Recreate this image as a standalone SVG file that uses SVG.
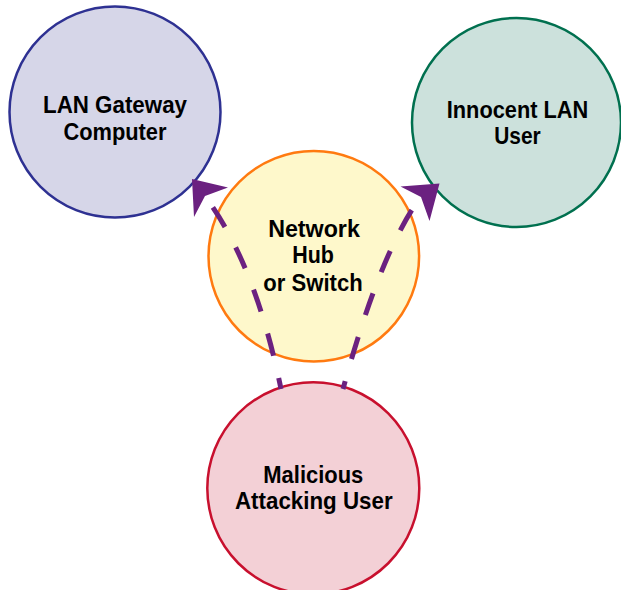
<svg xmlns="http://www.w3.org/2000/svg" width="621" height="590" viewBox="0 0 621 590">
  <style>
    .node { stroke-width: 2.5; }
    .label { font-family: "Liberation Sans", Arial, sans-serif; font-weight: bold; font-size: 24px; fill: #000; text-anchor: middle; }
    .conn { fill: none; stroke: #6b2180; stroke-width: 5; stroke-dasharray: 23 23; }
    .head { fill: #6b2180; stroke: none; }
  </style>
  <rect x="0" y="0" width="621" height="590" fill="#ffffff"/>
  <g id="node-gateway">
    <circle class="node" cx="115" cy="112" r="105.5" fill="#d6d6e8" stroke="#2e3192"/>
    <text class="label" x="115" y="112.5" textLength="144" lengthAdjust="spacingAndGlyphs">LAN Gateway</text>
    <text class="label" x="115" y="139.5" textLength="103" lengthAdjust="spacingAndGlyphs">Computer</text>
  </g>
  <g id="node-innocent">
    <circle class="node" cx="516.5" cy="122.5" r="104.5" fill="#cce1dc" stroke="#00704f"/>
    <text class="label" x="517.5" y="117.5" textLength="141.5" lengthAdjust="spacingAndGlyphs">Innocent LAN</text>
    <text class="label" x="517.5" y="143.5" textLength="46.5" lengthAdjust="spacingAndGlyphs">User</text>
  </g>
  <g id="node-hub">
    <circle class="node" cx="313.8" cy="256.3" r="105.3" fill="#fef8cb" stroke="#ff7a10"/>
    <text class="label" x="314" y="236.7" textLength="91.7" lengthAdjust="spacingAndGlyphs">Network</text>
    <text class="label" x="313" y="263.3" textLength="41.7" lengthAdjust="spacingAndGlyphs">Hub</text>
    <text class="label" x="313" y="290.5" textLength="99.3" lengthAdjust="spacingAndGlyphs">or Switch</text>
  </g>
  <g id="node-malicious">
    <circle class="node" cx="313.3" cy="488.3" r="106" fill="#f3d0d6" stroke="#c8102e"/>
    <text class="label" x="313.3" y="483.3" textLength="100" lengthAdjust="spacingAndGlyphs">Malicious</text>
    <text class="label" x="313.8" y="509.3" textLength="157.7" lengthAdjust="spacingAndGlyphs">Attacking User</text>
  </g>
  <g id="connectors">
    <path class="conn" d="M281,389 Q255.8,266 207,199" stroke-dashoffset="12"/>
    <polygon class="head" points="192,179 228,187.5 205,196 194,217"/>
    <path class="conn" d="M343,389 Q380.4,252 420,198" stroke-dashoffset="15"/>
    <polygon class="head" points="439.5,183.5 400.5,186.5 421,197 429.5,221"/>
  </g>
</svg>
